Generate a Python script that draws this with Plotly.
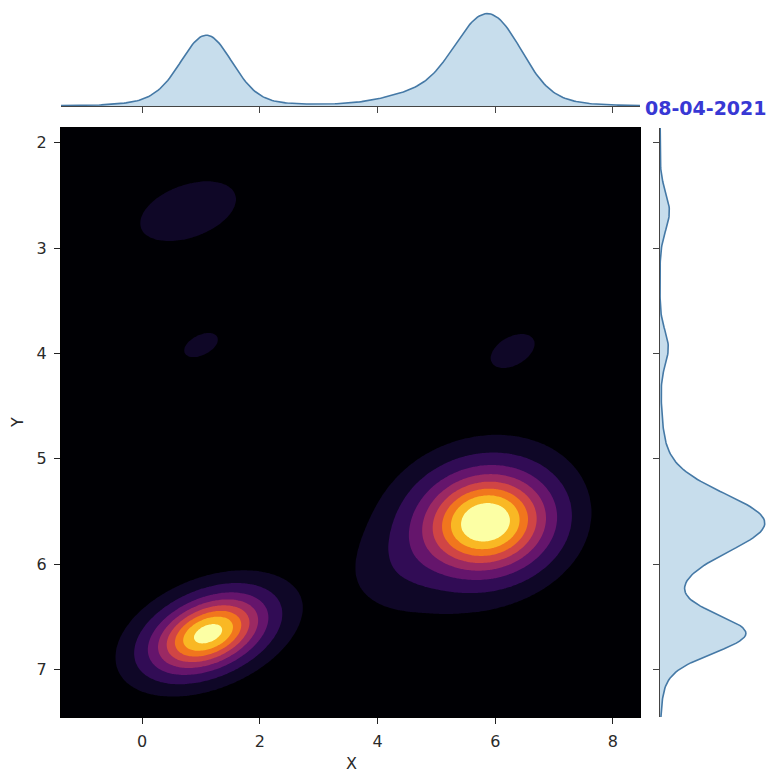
import numpy as np
import plotly.graph_objects as go

# ---- data: point clusters (centre, spread, weight) ----
cluster_weight = [1.0, 0.3, 0.55, 0.14, 0.04, 0.07, 0.025, 0.03]
cluster_x = [5.85, 5.5, 1.12, 1.1, 4.5, 0.78, 1.0, 6.3]
cluster_y = [5.6, 5.68, 6.66, 6.65, 5.95, 2.65, 3.92, 3.97]
cluster_sx = [0.45, 1.1, 0.3, 0.9, 0.3, 0.4, 0.0, 0.05]
cluster_sy = [0.22, 0.55, 0.1, 0.33, 0.2, 0.1, 0.0, 0.08]
cluster_rho = [0.3, -0.3, -0.2, -0.3, 0.0, -0.3, 0.0, 0.0]

# kernel bandwidths (2-D joint estimate and 1-D marginal estimates)
kernel2d = [0.5, 0.2, -0.45]   # sx, sy, rho
kernel1d = [0.3, 0.15]         # sx, sy

x_ticks = [0, 2, 4, 6, 8]
y_ticks = [2, 3, 4, 5, 6, 7]
x_range = [-1.38, 8.46]
y_range = [7.45, 1.86]
date_label = "08-04-2021"
n_levels = 10

inferno_stops = ['#000004', '#1b0c41', '#4a0c6b', '#781c6d', '#a52c60',
                 '#cf4446', '#ed6925', '#fb9b06', '#f7d13d', '#fcffa4']


def hex2rgb(h):
    h = h.lstrip('#')
    return [int(h[i:i + 2], 16) for i in (0, 2, 4)]


def inferno(t):
    t = min(max(t, 0.0), 1.0)
    pos = t * (len(inferno_stops) - 1)
    i = min(int(pos), len(inferno_stops) - 2)
    f = pos - i
    a = hex2rgb(inferno_stops[i]); b = hex2rgb(inferno_stops[i + 1])
    c = [round(a[k] + (b[k] - a[k]) * f) for k in range(3)]
    return 'rgb(%d,%d,%d)' % tuple(c)


# ---- density grid ----
gx = np.linspace(-1.6, 8.7, 320)
gy = np.linspace(1.7, 7.6, 320)
X, Y = np.meshgrid(gx, gy)
Z = np.zeros_like(X)
mx_d = np.zeros_like(gx)
my_d = np.zeros_like(gy)
kx2, ky2, kr2 = kernel2d
kx1, ky1 = kernel1d
for w, mx, my, sx, sy, r in zip(cluster_weight, cluster_x, cluster_y,
                                cluster_sx, cluster_sy, cluster_rho):
    vxx = sx * sx + kx2 * kx2
    vyy = sy * sy + ky2 * ky2
    vxy = r * sx * sy + kr2 * kx2 * ky2
    det = vxx * vyy - vxy * vxy
    dx = X - mx
    dy = Y - my
    q = (vyy * dx * dx - 2 * vxy * dx * dy + vxx * dy * dy) / det
    Z += w * np.exp(-q / 2) / (2 * np.pi * np.sqrt(det))
    s1x = np.sqrt(sx * sx + kx1 * kx1)
    s1y = np.sqrt(sy * sy + ky1 * ky1)
    mx_d += w * np.exp(-0.5 * ((gx - mx) / s1x) ** 2) / (s1x * np.sqrt(2 * np.pi))
    my_d += w * np.exp(-0.5 * ((gy - my) / s1y) ** 2) / (s1y * np.sqrt(2 * np.pi))

# iso-proportion levels (as seaborn does)
vals = np.sort(Z.ravel())[::-1]
cum = np.cumsum(vals) / vals.sum()
quant = np.linspace(0, 1, n_levels)
idx = np.searchsorted(cum, 1 - quant)
levels = np.take(vals, idx, mode='clip').astype(float)
levels[0] = Z.min()
levels[-1] = Z.max()
for i in range(1, len(levels)):
    if levels[i] <= levels[i - 1]:
        levels[i] = levels[i - 1] * 1.000001 + 1e-12
Zt = np.interp(Z, levels, np.arange(n_levels))

mids = 0.5 * (levels[:-1] + levels[1:])
tt = (mids - mids[0]) / (mids[-1] - mids[0])
band_cols = [inferno(t) for t in tt]
nb = len(band_cols)  # 9 bands
den = nb - 1
cscale = []
for b, c in enumerate(band_cols):
    lo = max(0.0, (b - 0.5) / den)
    hi = min(1.0, (b + 0.5) / den)
    cscale.append([lo, c])
    cscale.append([hi, c])

fig = go.Figure()
fig.add_trace(go.Contour(
    x=gx, y=gy, z=Zt, colorscale=cscale, autocontour=False,
    contours=dict(start=1, end=n_levels - 2, size=1, coloring='fill'),
    line=dict(width=0), showscale=False, hoverinfo='skip',
    xaxis='x', yaxis='y'))

line_col = '#4579a6'
fill_col = 'rgba(31,119,180,0.25)'
fig.add_trace(go.Scatter(x=gx, y=mx_d, mode='lines', fill='tozeroy',
                         line=dict(color=line_col, width=1.6), fillcolor=fill_col,
                         xaxis='x2', yaxis='y2', showlegend=False))
fig.add_trace(go.Scatter(x=my_d, y=gy, mode='lines', fill='tozerox',
                         line=dict(color=line_col, width=1.6), fillcolor=fill_col,
                         xaxis='x3', yaxis='y3', showlegend=False))

W, H = 775, 774
OFF = 8  # page body margin
def fx(p): return (p - OFF) / W
def fy(p): return 1 - (p - OFF) / H

tickfont = dict(family='DejaVu Sans', size=16, color='#2a2a2a')
fig.update_layout(
    width=W, height=H, margin=dict(l=0, r=0, t=0, b=0),
    paper_bgcolor='white', plot_bgcolor='white', showlegend=False,
    xaxis=dict(domain=[fx(61), fx(640)], range=x_range, tickvals=x_ticks,
               ticks='outside', ticklen=6, tickcolor='#222', showline=True,
               linecolor='black', mirror=True, showgrid=False, zeroline=False,
               tickfont=tickfont, ticklabelstandoff=4, anchor='y'),
    yaxis=dict(domain=[fy(717), fy(128)], range=y_range, tickvals=y_ticks,
               ticks='outside', ticklen=6, tickcolor='#222', showline=True,
               linecolor='black', mirror=True, showgrid=False, zeroline=False,
               tickfont=tickfont, ticklabelstandoff=4, anchor='x'),
    xaxis2=dict(domain=[fx(61), fx(640)], range=x_range, tickvals=x_ticks,
                ticks='outside', ticklen=6, tickcolor='#444', showticklabels=False,
                showline=True, linecolor='#444', showgrid=False, zeroline=False,
                anchor='y2'),
    yaxis2=dict(domain=[fy(106), fy(9)], range=[0, mx_d.max() * 1.05],
                visible=False, anchor='x2'),
    xaxis3=dict(domain=[fx(660), fx(770)], range=[0, my_d.max() * 1.05],
                visible=False, anchor='y3'),
    yaxis3=dict(domain=[fy(717), fy(128)], range=y_range, tickvals=y_ticks,
                ticks='outside', ticklen=6, tickcolor='#444', showticklabels=False,
                showline=True, linecolor='#444', showgrid=False, zeroline=False,
                anchor='x3'),
    annotations=[
        dict(text='X', x=fx(351), y=fy(763), xref='paper', yref='paper',
             xanchor='center', yanchor='middle', showarrow=False,
             font=dict(family='DejaVu Sans', size=16, color='#2a2a2a')),
        dict(text='Y', x=fx(17), y=fy(423), xref='paper', yref='paper', textangle=-90,
             xanchor='center', yanchor='middle', showarrow=False,
             font=dict(family='DejaVu Sans', size=16, color='#2a2a2a')),
        dict(text='<b>' + date_label + '</b>', x=fx(643), y=fy(108), xref='paper',
             yref='paper', xanchor='left', yanchor='middle', showarrow=False,
             font=dict(family='DejaVu Sans', size=19, color='#3838d4')),
    ],
)

fig.write_html('out.html')
